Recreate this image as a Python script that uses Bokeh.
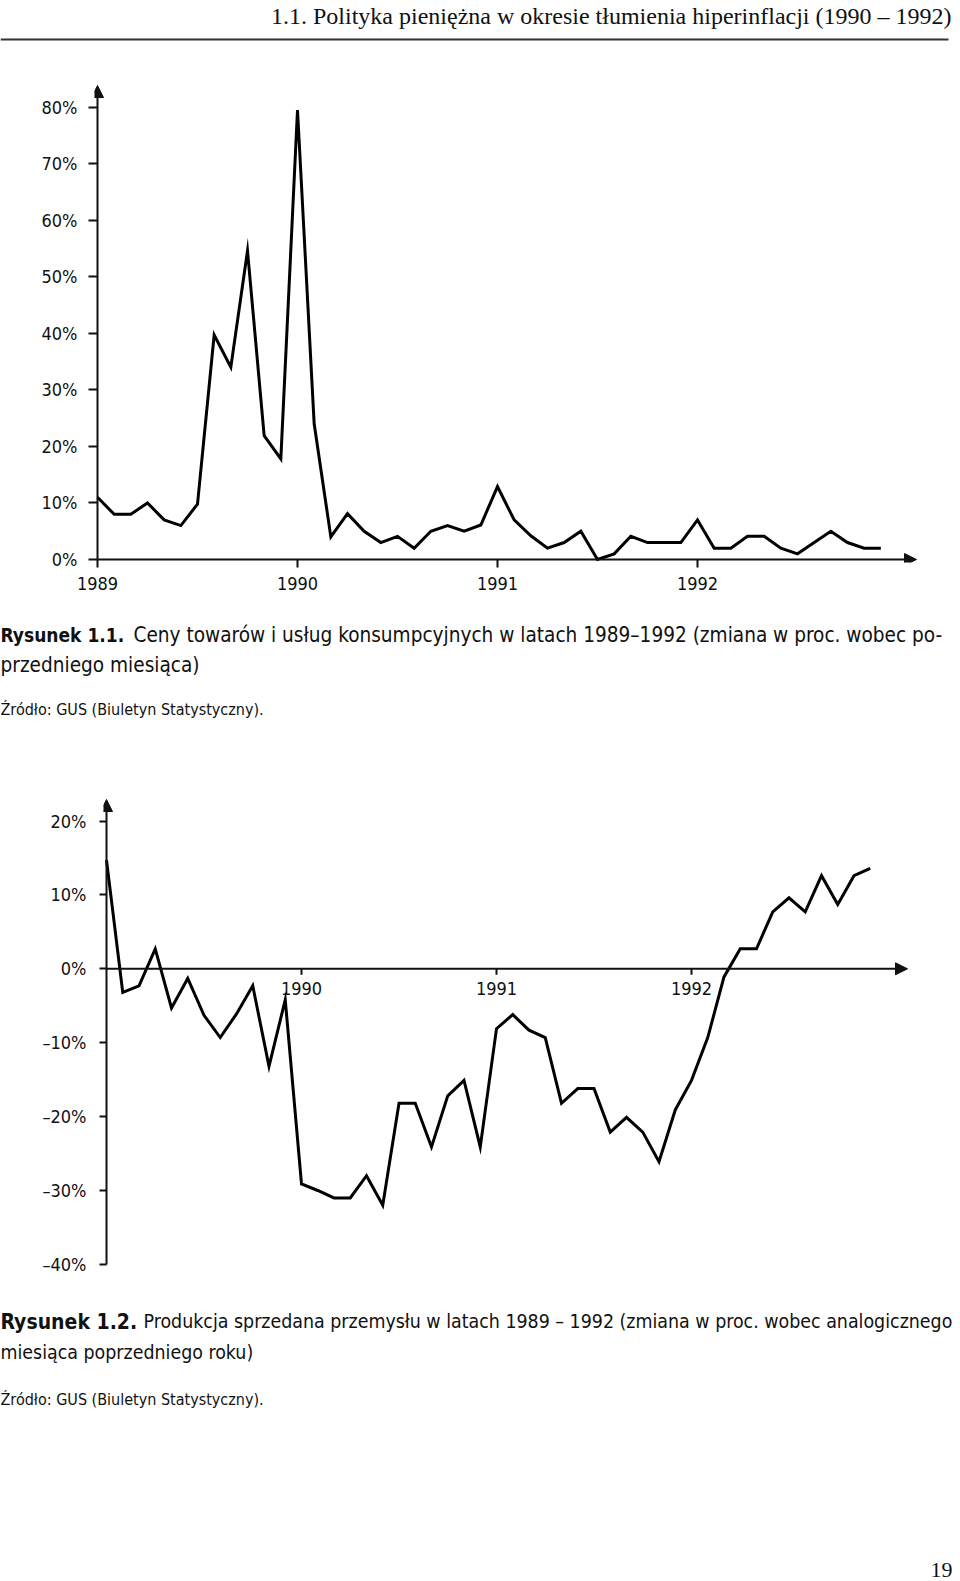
from bokeh.plotting import figure
from bokeh.layouts import column
from bokeh.models import Range1d, FixedTicker, Arrow, NormalHead
from bokeh.core.properties import value
from bokeh.embed import file_html
from bokeh.resources import INLINE

# ---------------- data ----------------
start_year = 1989
month_index = list(range(48))  # Jan 1989 .. Dec 1992

# Fig 1.1: CPI, % change vs previous month
cpi = [11.0, 8.0, 8.0, 10.0, 7.0, 6.0, 9.8, 39.7, 34.0, 54.6, 21.9, 17.8,
       79.5, 24.0, 4.0, 8.1, 5.0, 3.0, 4.1, 2.0, 5.0, 6.0, 5.0, 6.1,
       12.9, 7.0, 4.2, 2.0, 3.0, 5.0, 0.0, 1.0, 4.1, 3.0, 3.0, 3.0,
       7.0, 2.0, 2.0, 4.1, 4.1, 2.0, 1.0, 3.0, 5.0, 3.0, 2.0, 2.0]

# Fig 1.2: industrial sold production, % change vs same month of previous year
prod = [14.7, -3.2, -2.3, 2.7, -5.3, -1.3, -6.3, -9.3, -6.1, -2.3, -13.2, -4.2,
        -29.1, -30.0, -31.0, -31.0, -28.0, -32.0, -18.2, -18.2, -24.1, -17.2, -15.1, -24.1,
        -8.1, -6.2, -8.3, -9.3, -18.2, -16.2, -16.2, -22.1, -20.1, -22.1, -26.1, -19.1,
        -15.1, -9.3, -1.1, 2.7, 2.7, 7.7, 9.6, 7.7, 12.6, 8.7, 12.6, 13.6]

year_ticks = [1989, 1990, 1991, 1992]
year_labels = ["1989", "1990", "1991", "1992"]
cpi_ticks = [0, 10, 20, 30, 40, 50, 60, 70, 80]
cpi_tick_labels = ["0%", "10%", "20%", "30%", "40%", "50%", "60%", "70%", "80%"]
prod_ticks = [-40, -30, -20, -10, 0, 10, 20]
prod_tick_labels = ["\u201340%", "\u201330%", "\u201320%", "\u201310%", "0%", "10%", "20%"]
prod_year_ticks = [1990, 1991, 1992]
prod_year_labels = ["1990", "1991", "1992"]

header_text = "1.1. Polityka pieniężna w okresie tłumienia hiperinflacji (1990 – 1992)"
cap1_bold = "Rysunek 1.1."
cap1_line1 = "Ceny towarów i usług konsumpcyjnych w latach 1989–1992 (zmiana w proc. wobec po-"
cap1_line2 = "przedniego miesiąca)"
cap2_bold = "Rysunek 1.2."
cap2_line1 = "Produkcja sprzedana przemysłu w latach 1989 – 1992 (zmiana w proc. wobec analogicznego"
cap2_line2 = "miesiąca poprzedniego roku)"
source_text = "Źródło: GUS (Biuletyn Statystyczny)."
page_number = "19"

# ---------------- styles ----------------
SANS = "DejaVu Sans Condensed"
SERIF = "Liberation Serif"
INK = "#111111"

xs = [start_year + m / 12.0 for m in month_index]


def style(f):
    f.grid.visible = False
    f.outline_line_color = None
    f.background_fill_color = "white"
    f.border_fill_color = "white"
    f.frame_align = False
    return f


def text_fig(h):
    f = figure(width=960, height=h, x_range=Range1d(0, 960), y_range=Range1d(h, 0),
               x_axis_location=None, y_axis_location=None, toolbar_location=None,
               output_backend="svg", title=None, min_border=0)
    return style(f)


# ---------------- header ----------------
hdr = text_fig(70)
hdr.text(x=[951], y=[15], text=[header_text], text_font=value(SERIF), text_font_size="24px",
         text_align="right", text_baseline="alphabetic", text_color=INK)
hdr.segment(x0=[0], y0=[39], x1=[948], y1=[39], line_color="#333333", line_width=2)

# ---------------- chart 1 ----------------
px_per_year1 = 200.0
px_per_pct1 = 5.654
p1 = figure(width=960, height=540,
            x_range=Range1d(start_year - 3 / px_per_year1, start_year + 828 / px_per_year1),
            y_range=Range1d(-3 / px_per_pct1, 479 / px_per_pct1),
            toolbar_location=None, output_backend="svg", title=None,
            min_border_left=94, min_border_right=35, min_border_top=10, min_border_bottom=48)
style(p1)

p1.yaxis.ticker = FixedTicker(ticks=cpi_ticks)
p1.yaxis.major_label_overrides = dict(zip(cpi_ticks, cpi_tick_labels))
p1.xaxis.ticker = FixedTicker(ticks=year_ticks)
p1.xaxis.major_label_overrides = dict(zip(year_ticks, year_labels))
for ax in (p1.xaxis, p1.yaxis):
    ax.axis_line_color = None
    ax.major_tick_line_color = INK
    ax.major_tick_line_width = 2
    ax.minor_tick_line_color = None
    ax.major_label_text_font = SANS
    ax.major_label_text_font_size = "18px"
    ax.major_label_text_color = INK
p1.yaxis.major_tick_out = 6
p1.yaxis.major_tick_in = 3
p1.yaxis.major_label_standoff = 11
p1.xaxis.major_tick_out = 5
p1.xaxis.major_tick_in = 3
p1.xaxis.major_label_standoff = 9

p1.add_layout(Arrow(end=NormalHead(size=12, fill_color=INK, line_color=INK),
                    x_start=start_year, y_start=0, x_end=start_year, y_end=474 / px_per_pct1,
                    line_width=2, line_color=INK))
p1.add_layout(Arrow(end=NormalHead(size=12, fill_color=INK, line_color=INK),
                    x_start=start_year, y_start=0, x_end=start_year + 819 / px_per_year1, y_end=0,
                    line_width=2, line_color=INK))
p1.line(xs, cpi, line_width=3, line_color="black", line_join="miter")

# ---------------- caption 1 ----------------
c1 = text_fig(150)
c1.text(x=[0], y=[24.5], text=[cap1_bold], text_font=value(SANS), text_font_size="19px",
        text_font_style="bold", text_baseline="alphabetic", text_color=INK)
c1.text(x=[133, 0], y=[24.5, 54.5], text=[cap1_line1, cap1_line2], text_font=value(SANS),
        text_font_size="20.6px", text_baseline="alphabetic", text_color=INK)
c1.text(x=[0], y=[99], text=[source_text], text_font=value(SANS), text_font_size="16px",
        text_baseline="alphabetic", text_color=INK)

# ---------------- chart 2 ----------------
px_per_year2 = 195.0
px_per_pct2 = 7.39
zero_px = 178.3  # distance from frame top to the 0% line
p2 = figure(width=960, height=540,
            x_range=Range1d(start_year - 3 / px_per_year2, start_year + 809 / px_per_year2),
            y_range=Range1d(-(480 - zero_px) / px_per_pct2, zero_px / px_per_pct2),
            x_axis_location=None, toolbar_location=None, output_backend="svg", title=None,
            min_border_left=103, min_border_right=45, min_border_top=30, min_border_bottom=30)
style(p2)
ay = p2.yaxis
ay.ticker = FixedTicker(ticks=prod_ticks)
ay.major_label_overrides = dict(zip(prod_ticks, prod_tick_labels))
ay.axis_line_color = None
ay.major_tick_line_color = INK
ay.major_tick_line_width = 2
ay.minor_tick_line_color = None
ay.major_tick_out = 4
ay.major_tick_in = 3
ay.major_label_standoff = 13
ay.major_label_text_font = SANS
ay.major_label_text_font_size = "18px"
ay.major_label_text_color = INK

p2.add_layout(Arrow(end=NormalHead(size=12, fill_color=INK, line_color=INK),
                    x_start=start_year, y_start=prod_ticks[0], x_end=start_year,
                    y_end=169.3 / px_per_pct2, line_width=2, line_color=INK))
p2.add_layout(Arrow(end=NormalHead(size=12, fill_color=INK, line_color=INK),
                    x_start=start_year, y_start=0, x_end=start_year + 801 / px_per_year2, y_end=0,
                    line_width=2, line_color=INK))
p2.segment(x0=prod_year_ticks, y0=[0] * 3, x1=prod_year_ticks, y1=[-6 / px_per_pct2] * 3,
           line_color=INK, line_width=2)
p2.text(x=prod_year_ticks, y=[-20 / px_per_pct2] * 3, text=prod_year_labels,
        text_font=value(SANS), text_font_size="18px", text_align="center",
        text_baseline="alphabetic", text_color=INK)
p2.line(xs, prod, line_width=3, line_color="black", line_join="miter")

# ---------------- caption 2 + footer ----------------
c2 = text_fig(281)
c2.text(x=[0], y=[21], text=[cap2_bold], text_font=value(SANS), text_font_size="21px",
        text_font_style="bold", text_baseline="alphabetic", text_color=INK)
c2.text(x=[143, 0], y=[21, 52], text=[cap2_line1, cap2_line2], text_font=value(SANS),
        text_font_size="19.4px", text_baseline="alphabetic", text_color=INK)
c2.text(x=[0], y=[98.6], text=[source_text], text_font=value(SANS), text_font_size="16px",
        text_baseline="alphabetic", text_color=INK)
c2.text(x=[941], y=[269], text=[page_number], text_font=value(SERIF), text_font_size="22px",
        text_align="center", text_baseline="alphabetic", text_color=INK)

page = column(hdr, p1, c1, p2, c2, spacing=0)
open("out.html", "w").write(file_html(page, INLINE))
